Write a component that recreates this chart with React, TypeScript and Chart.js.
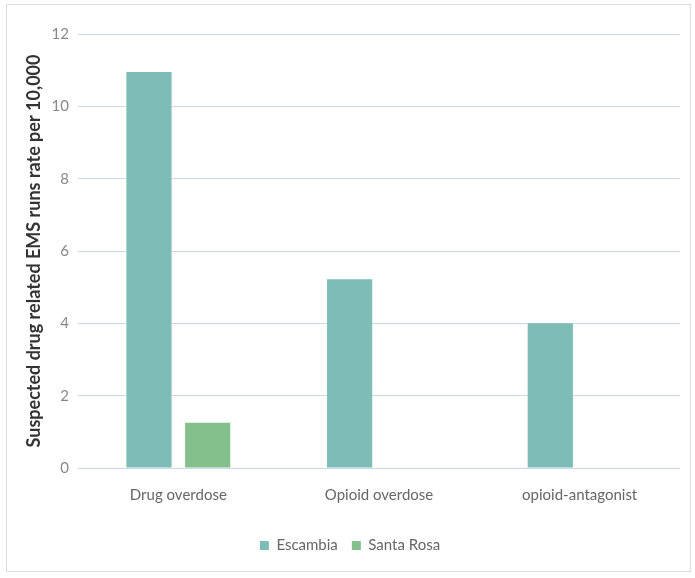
import React, { useEffect, useRef } from "react";
import { Chart, registerables } from "chart.js";

Chart.register(...registerables);

const categories = ["Drug overdose", "Opioid overdose", "opioid-antagonist"];
const escambia = [10.95, 5.22, 4.0];
const santaRosa = [1.25, 0, 0];
const yTicks = [0, 2, 4, 6, 8, 10, 12];

export default function App() {
  const ref = useRef<HTMLCanvasElement | null>(null);
  useEffect(() => {
    if (!ref.current) return;
    const font = "Lato, 'Open Sans', sans-serif";
    const chart = new Chart(ref.current, {
      type: "bar",
      data: {
        labels: categories,
        datasets: [
          { label: "Escambia", data: escambia, backgroundColor: "#7dbdb6" },
          { label: "Santa Rosa", data: santaRosa, backgroundColor: "#84c08c" },
        ],
      },
      options: {
        animation: false,
        responsive: false,
        maintainAspectRatio: false,
        layout: { padding: { left: 20, right: 15, top: 34, bottom: 15 } },
        datasets: { bar: { categoryPercentage: 0.585, barPercentage: 0.77 } },
        plugins: {
          legend: {
            position: "bottom",
            labels: {
              boxWidth: 9,
              boxHeight: 9,
              padding: 14,
              color: "#666",
              font: { family: font, size: 15 },
            },
          },
          tooltip: { enabled: false },
        },
        scales: {
          x: {
            grid: { display: false },
            border: { display: false },
            ticks: { color: "#666", font: { family: font, size: 15 }, padding: 10 },
            afterFit: (axis: any) => {
              axis.height += 10;
            },
          },
          y: {
            min: 0,
            max: 12,
            afterBuildTicks: (axis: any) => {
              axis.ticks = yTicks.map((v) => ({ value: v }));
            },
            afterFit: (axis: any) => {
              axis.width = 58;
            },
            grid: { color: "#c9d9ef", lineWidth: 1, drawTicks: false },
            border: { display: false },
            ticks: { color: "#888", font: { family: font, size: 15 }, padding: 9 },
            title: {
              display: true,
              text: "Suspected drug related EMS runs rate per 10,000",
              color: "#333",
              font: { family: font, size: 18, weight: "bold" },
              padding: { top: 3, bottom: 2 },
            },
          },
        },
      },
    });
    return () => chart.destroy();
  }, []);
  return (
    <div style={{ position: "absolute", left: 0, top: 0, width: 695, height: 578, background: "#fff" }}>
      <canvas ref={ref} width={695} height={578} style={{ display: "block", width: 695, height: 578 }} />
      <div style={{ position: "absolute", left: 6, top: 4, right: 4, bottom: 6, border: "1px solid #ddd", pointerEvents: "none" }} />
    </div>
  );
}
